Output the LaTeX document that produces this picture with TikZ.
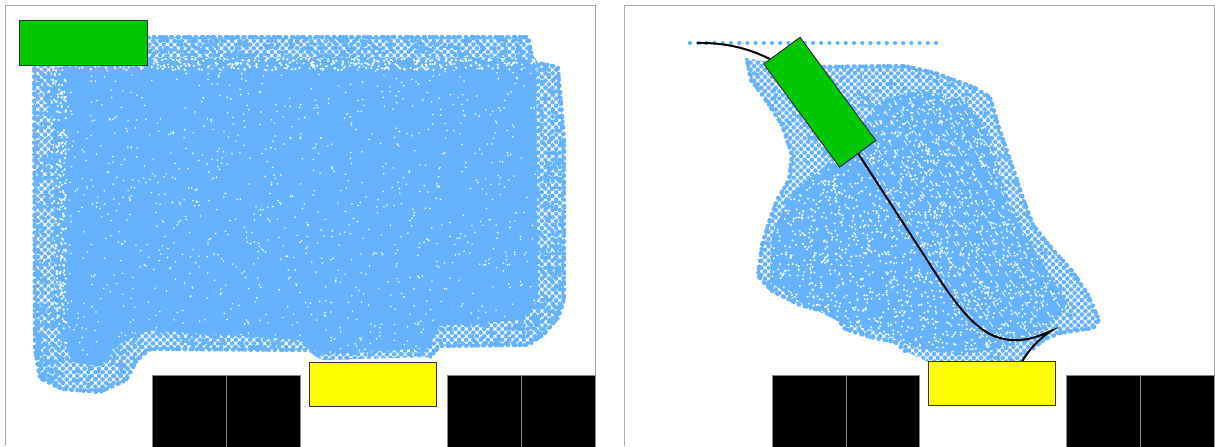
\documentclass[tikz,border=0pt]{standalone}
\usetikzlibrary{patterns.meta}
\definecolor{cloud}{RGB}{102,178,255}
\definecolor{grn}{RGB}{0,200,0}
\definecolor{ylw}{RGB}{255,255,0}
\definecolor{frm}{RGB}{170,170,170}
\definecolor{edge}{RGB}{50,50,50}
\pgfdeclarepattern{name=cdots, type=uncolored,
  bottom left={\pgfpoint{-0.4pt}{-0.4pt}}, top right={\pgfpoint{4pt}{4pt}},
  tile size={\pgfpoint{3.6pt}{3.6pt}},
  code={\pgfpathcircle{\pgfpoint{0.9pt}{0.9pt}}{1.15pt}
        \pgfpathcircle{\pgfpoint{2.7pt}{2.7pt}}{1.15pt}\pgfusepath{fill}}}
\newcommand\rdots[6]{% count, x0, w, y0, h, style
  \foreach \i in {1,...,#1}{\pgfmathsetmacro\rx{#2+#3*rnd}\pgfmathsetmacro\ry{#4+#5*rnd}
    \fill[#6] (\rx,\ry) circle (1.1pt);}}
\newcommand\rspecks[6]{% count, x0, w, y0, h, radius
  \foreach \i in {1,...,#1}{\pgfmathsetmacro\rx{#2+#3*rnd}\pgfmathsetmacro\ry{#4+#5*rnd}
    \fill[white] (\rx,\ry) circle (#6);}}
\tikzset{
  frame/.style={draw=frm, line width=0.6pt},
  block/.style={fill=black, draw=frm!80!black, line width=0.6pt},
  robot/.style={draw=edge, fill=grn, line width=0.5pt, minimum width=64pt, minimum height=22.5pt, inner sep=0pt},
  goal/.style={draw=edge, fill=ylw, line width=0.5pt, minimum width=63.7pt, minimum height=22pt, inner sep=0pt},
  path/.style={draw=black, line width=1pt},
  rim/.style={draw=cloud, line width=2.2pt, line cap=round, dash pattern=on 0pt off 3pt},
  rim2/.style={draw=cloud, line width=2pt, line cap=round, dash pattern=on 0pt off 4.1pt, dash phase=1.3pt}
}
\begin{document}
\begin{tikzpicture}[x=0.5pt,y=-0.5pt]
\useasboundingbox (0,0) rectangle (1215,446);
\pgfmathsetseed{7}
% frames
\draw[frame] (5.5,446) -- (5.5,5.5) -- (595.5,5.5) -- (595.5,446);
\draw[frame] (624.5,446) -- (624.5,5.5) -- (1214.5,5.5) -- (1214.5,446);

% ---------- left cloud ----------
\def\outerL{(34,40) -- (150,37) -- (528,37) -- (533,62) -- (558,67) -- (564,140) -- (564,300) -- (558,318) -- (543,335) -- (528,345) -- (440,346) -- (430,357) -- (322,360) -- (305,350) -- (150,349) -- (137,360) -- (126,380) -- (100,392) -- (62,389) -- (40,378) -- (35,350) -- cycle}
\def\rimL{(34,40) -- (150,37) -- (528,37) -- (533,62) -- (558,67) -- (564,140) -- (564,300) -- (558,318) -- (543,335) -- (528,345) -- (440,346) -- (430,357)}
\def\rimLb{(305,350) -- (150,349) -- (137,360) -- (126,380) -- (100,392) -- (62,389) -- (40,378) -- (35,350) -- (34,40)}
\def\innerL{(52,58) -- (536,58) -- (538,300) -- (522,320) -- (440,326) -- (428,348) -- (320,355) -- (300,340) -- (150,330) -- (122,342) -- (100,366) -- (72,362) -- (55,320) -- cycle}
\begin{scope}
  \clip \outerL;
  \fill[pattern=cdots, pattern color=cloud] (0,0) rectangle (600,446);
  \rdots{300}{33}{30}{35}{360}{cloud}
  \rdots{450}{33}{533}{35}{30}{cloud}
  \rdots{300}{528}{40}{35}{315}{cloud}
  \rdots{1000}{33}{533}{300}{95}{cloud}
\end{scope}
\draw[rim] \rimL; \draw[rim2] \rimL;
\draw[rim] \rimLb; \draw[rim2] \rimLb;
\fill[cloud] \innerL;
\begin{scope}
  \clip \innerL;
  \rspecks{1100}{52}{486}{58}{300}{0.45pt}
  \rspecks{350}{52}{486}{58}{12}{0.6pt}
  \rspecks{250}{52}{14}{58}{300}{0.6pt}
\end{scope}

% ---------- right cloud ----------
\def\outerR{(745,58) -- (770,62) -- (800,67) -- (905,66) -- (935,73) -- (973,87) -- (990,97) -- (998,125) -- (1010,160) -- (1023,198) -- (1033,225) -- (1053,250) -- (1073,272) -- (1088,295) -- (1099,320) -- (1093,328) -- (1060,333) -- (1045,339) -- (1030,351) -- (1022,362) -- (928,362) -- (905,351) -- (895,342) -- (870,337) -- (845,329) -- (834,314) -- (800,305) -- (772,291) -- (758,276) -- (762,245) -- (769,222) -- (777,200) -- (789,180) -- (792,155) -- (782,125) -- (766,100) -- (751,80) -- cycle}
\def\rimR{(800,67) -- (905,66) -- (935,73) -- (973,87) -- (990,97) -- (998,125) -- (1010,160) -- (1023,198) -- (1033,225) -- (1053,250) -- (1073,272) -- (1088,295) -- (1099,320) -- (1093,328) -- (1060,333) -- (1045,339) -- (1030,351)}
\def\rimRb{(905,351) -- (895,342) -- (870,337) -- (845,329) -- (834,314) -- (800,305) -- (772,291) -- (758,276) -- (762,245) -- (769,222) -- (777,200) -- (789,180) -- (792,155) -- (782,125) -- (766,100) -- (751,80) -- (747,60)}
\def\innerR{(790,195) -- (820,170) -- (850,140) -- (880,100) -- (920,90) -- (965,100) -- (990,135) -- (1003,185) -- (1022,230) -- (1048,272) -- (1068,305) -- (1045,328) -- (1015,345) -- (960,355) -- (915,348) -- (880,332) -- (840,322) -- (800,302) -- (770,282) -- (772,235) -- cycle}
\begin{scope}
  \clip \outerR;
  \fill[pattern=cdots, pattern color=cloud] (740,50) rectangle (1110,370);
  \rdots{700}{745}{360}{60}{305}{cloud}
\end{scope}
\draw[rim] \rimR; \draw[rim2] \rimR;
\draw[rim] \rimRb; \draw[rim2] \rimRb;
\fill[cloud] \innerR;
\begin{scope}
  \clip \innerR;
  \rspecks{2600}{770}{300}{90}{268}{0.55pt}
  \foreach \k in {-6,...,7}{
    \pgfmathsetmacro\sx{900+\k*16}
    \draw[white, line width=0.35pt, dash pattern=on 3pt off 3pt]
      (\sx,60) -- ++(230,355);}
\end{scope}
\foreach \x in {690,698.2,...,936} \fill[cloud] (\x,43) circle (1.05pt);

% ---------- trajectory ----------
\coordinate (s) at (697,43);
\coordinate (t) at (1051,331);
\coordinate (e) at (1022,361.5);
\draw[path] (s) .. controls (745,42) and (790,60) .. (830,110) -- (940,280)
  .. controls (970,325) and (990,342) .. (1020,340)
  .. controls (1035,339) and (1045,333) .. (t)
  .. controls (1040,338) and (1030,348) .. (e);

% ---------- robots and goals ----------
\node[robot] (gL) at (83.5,42.7) {};
\node[robot, rotate=-53.7] (gR) at (819.8,102.2) {};
\node[goal] (yL) at (373,384.3) {};
\node[goal] (yR) at (992,383.3) {};

% ---------- obstacles ----------
\draw[block] (152.5,375.5) rectangle (226.5,450);
\draw[block] (226.5,375.5) rectangle (300.5,450);
\draw[block] (447.5,375.5) rectangle (521.5,450);
\draw[block] (521.5,375.5) rectangle (595.5,450);
\draw[block] (772.5,375.5) rectangle (846.5,450);
\draw[block] (846.5,375.5) rectangle (919.5,450);
\draw[block] (1066.5,375.5) rectangle (1140.5,450);
\draw[block] (1140.5,375.5) rectangle (1214.5,450);
\end{tikzpicture}
\end{document}
